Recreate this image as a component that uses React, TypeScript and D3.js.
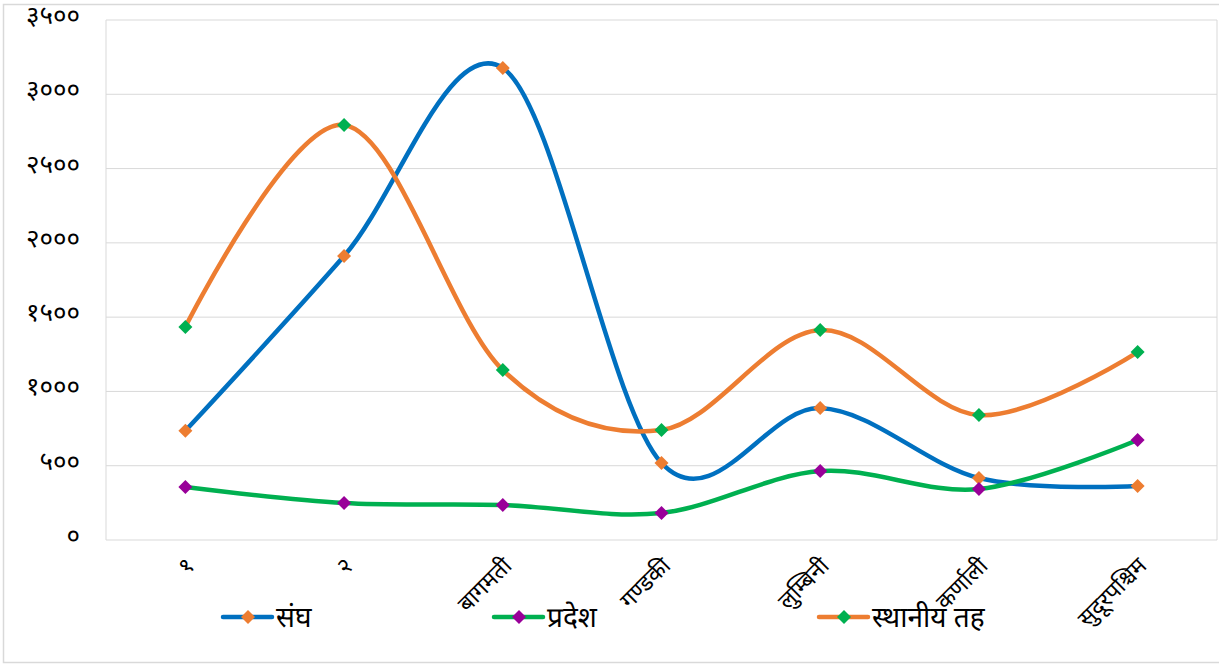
import React from "react";
import * as d3 from "d3";

const categories = ["१", "२", "बागमती", "गण्डकी", "लुम्बिनी", "कर्णाली", "सुदूरपश्चिम"];
const sanghValues = [735, 1911, 3177, 518, 888, 417, 363];
const pradeshValues = [357, 249, 236, 182, 464, 343, 673];
const sthaniyaValues = [1434, 2793, 1144, 740, 1413, 841, 1265];
const yTicks = [0, 500, 1000, 1500, 2000, 2500, 3000, 3500];
const seriesNames = ["संघ", "प्रदेश", "स्थानीय तह"];

const W = 1219;
const H = 664;
const plot = { left: 106, right: 1217, top: 20, bottom: 540 };
const FONT = "'Noto Sans Devanagari', 'Lohit Devanagari', 'Noto Sans', sans-serif";

const devDigits = "०१२३४५६७८९";
const toDev = (n: number) => String(n).replace(/[0-9]/g, (d) => devDigits[+d]);

const seriesStyles = [
  { line: "#0070C0", marker: "#ED7D31" },
  { line: "#00B050", marker: "#990099" },
  { line: "#ED7D31", marker: "#00B050" },
];

function Diamond({ x, y, fill, r = 7 }: { x: number; y: number; fill: string; r?: number }) {
  return <path d={`M${x},${y - r}L${x + r},${y}L${x},${y + r}L${x - r},${y}Z`} fill={fill} />;
}

export default function App() {
  const x = d3.scalePoint<string>().domain(categories).range([plot.left, plot.right]).padding(0.5);
  const y = d3.scaleLinear().domain([0, 3500]).range([plot.bottom, plot.top]);
  const line = d3
    .line<number>()
    .x((_, i) => x(categories[i]) as number)
    .y((d) => y(d))
    .curve(d3.curveCatmullRom.alpha(0));

  const allSeries = [sanghValues, pradeshValues, sthaniyaValues];
  const legendX = [223, 494, 819];

  return (
    <div style={{ position: "absolute", left: 0, top: 0 }}>
      <svg width={W} height={H} style={{ display: "block", fontFamily: FONT }}>
        <rect x={0} y={0} width={W} height={H} fill="#fff" />
        <rect x={3.5} y={4.5} width={W + 10} height={658} fill="none" stroke="#D9D9D9" strokeWidth={1.5} />
        {yTicks.map((t) => (
          <g key={t}>
            <line x1={plot.left} x2={plot.right} y1={y(t)} y2={y(t)} stroke="#D9D9D9" strokeWidth={1} />
            <text x={80} y={y(t) - 3} textAnchor="end" dominantBaseline="middle" fontSize={26} fill="#000">
              {toDev(t)}
            </text>
          </g>
        ))}
        <line x1={plot.left} x2={plot.left} y1={plot.top} y2={plot.bottom} stroke="#D9D9D9" />
        <line x1={plot.right} x2={plot.right} y1={plot.top} y2={plot.bottom} stroke="#D9D9D9" />
        {categories.map((c) => (
          <text
            key={c}
            transform={`translate(${(x(c) as number) + 6},${563}) rotate(-45)`}
            textAnchor="end"
            fontSize={23}
            dominantBaseline="middle"
            fill="#000"
          >
            {c}
          </text>
        ))}
        {allSeries.map((vals, si) => (
          <g key={si}>
            <path d={line(vals) || ""} fill="none" stroke={seriesStyles[si].line} strokeWidth={4.5} strokeLinecap="round" />
            {vals.map((v, i) => (
              <Diamond key={i} x={x(categories[i]) as number} y={y(v)} fill={seriesStyles[si].marker} />
            ))}
          </g>
        ))}
        {seriesNames.map((n, si) => (
          <g key={n}>
            <line x1={legendX[si]} x2={legendX[si] + 49} y1={617} y2={617} stroke={seriesStyles[si].line} strokeWidth={4.5} strokeLinecap="round" />
            <Diamond x={legendX[si] + 25} y={617} fill={seriesStyles[si].marker} />
            <text x={legendX[si] + 53} y={619} dominantBaseline="middle" fontSize={28} fill="#000">
              {n}
            </text>
          </g>
        ))}
      </svg>
    </div>
  );
}
